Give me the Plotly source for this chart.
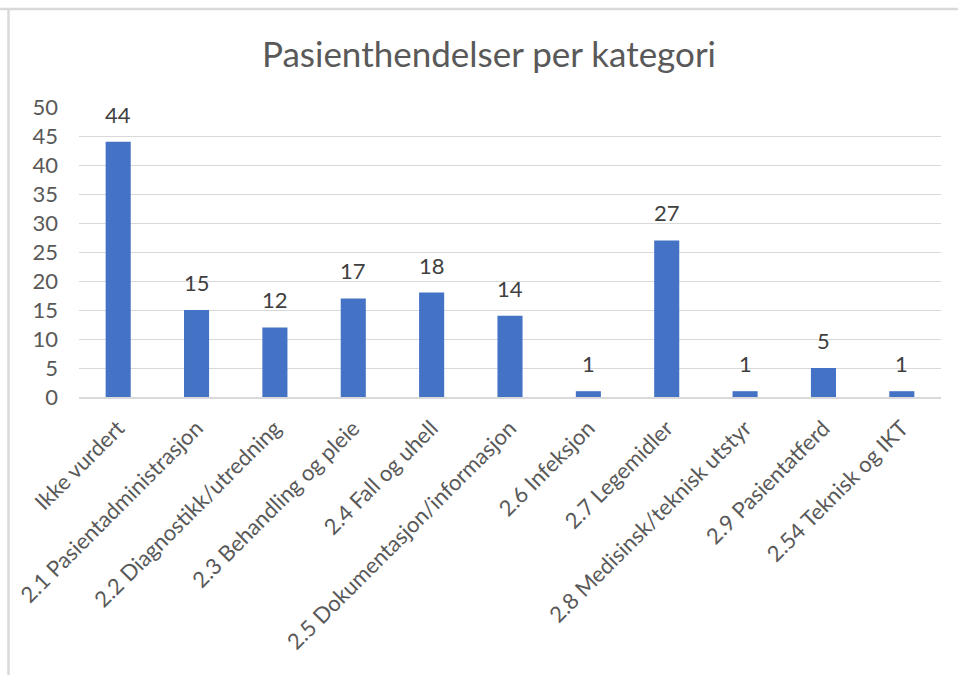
import plotly.graph_objects as go

categories = [
    "Ikke vurdert",
    "2.1 Pasientadministrasjon",
    "2.2 Diagnostikk/utredning",
    "2.3 Behandling og pleie",
    "2.4 Fall og uhell",
    "2.5 Dokumentasjon/informasjon",
    "2.6 Infeksjon",
    "2.7 Legemidler",
    "2.8 Medisinsk/teknisk utstyr",
    "2.9 Pasientatferd",
    "2.54 Teknisk og IKT",
]
values = [44, 15, 12, 17, 18, 14, 1, 27, 1, 5, 1]
y_ticks = [0, 5, 10, 15, 20, 25, 30, 35, 40, 45, 50]

FONT = "Lato, Open Sans, sans-serif"
GREY = "#595959"

W, H = 958, 675
L, R, T, B = 79, 17, 107, 278
PW, PH = W - L - R, H - T - B

fig = go.Figure(
    go.Bar(
        x=categories,
        y=values,
        marker=dict(color="#4472C4", line=dict(width=0)),
        hoverinfo="x+y",
    )
)

for c, v in zip(categories, values):
    fig.add_annotation(
        x=c, y=v, xref="x", yref="y",
        text=str(v), showarrow=False,
        yanchor="bottom", yshift=12,
        font=dict(size=22, color="#404040", family=FONT),
    )

fig.update_layout(
    width=W,
    height=H,
    paper_bgcolor="white",
    plot_bgcolor="white",
    margin=dict(l=L, r=R, t=T, b=B, autoexpand=False),
    bargap=0.68,
    showlegend=False,
    title=dict(
        text="Pasienthendelser per kategori",
        x=489 / W,
        xanchor="center",
        y=1 - 55 / H,
        yanchor="middle",
        font=dict(size=35, color=GREY, family=FONT),
    ),
    xaxis=dict(
        tickangle=-45,
        tickfont=dict(size=22, color=GREY, family=FONT),
        showgrid=False,
        showline=True,
        linecolor="#d9d9d9",
        linewidth=1.5,
        ticks="",
        ticklabelstandoff=8,
        automargin=False,
    ),
    yaxis=dict(
        range=[0, 50],
        tickvals=y_ticks,
        tickfont=dict(size=22, color=GREY, family=FONT),
        showgrid=True,
        gridcolor="#d9d9d9",
        gridwidth=1.3,
        zeroline=False,
        showline=False,
        ticks="",
        ticklabelstandoff=20,
        automargin=False,
    ),
    shapes=[
        dict(type="line", xref="paper", yref="paper",
             x0=-L / PW, x1=(W - L) / PW,
             y0=(H - 9 - B) / PH, y1=(H - 9 - B) / PH,
             line=dict(color="#d9d9d9", width=2.5)),
        dict(type="line", xref="paper", yref="paper",
             x0=(8.5 - L) / PW, x1=(8.5 - L) / PW,
             y0=(H - 9 - B) / PH, y1=-B / PH,
             line=dict(color="#d9d9d9", width=2.5)),
    ],
)

fig.write_html(
    "out.html",
    config={"displayModeBar": False},
    post_script="document.body.style.margin='0';document.body.style.overflow='hidden';",
)
